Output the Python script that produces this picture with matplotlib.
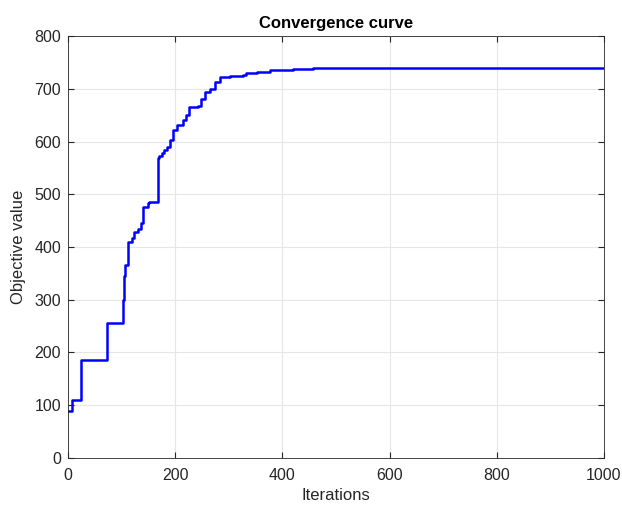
import matplotlib.pyplot as plt

# step points of the convergence curve (iteration where value changes, new value)
iters = [0, 7, 24, 73, 103, 104, 107, 112, 119, 124, 130, 136, 140, 150, 152, 168,
         170, 175, 180, 184, 190, 196, 203, 215, 220, 226, 243, 249, 255, 265,
         274, 284, 302, 327, 333, 352, 377, 420, 457, 520, 1000]
values = [90, 110, 185, 256, 300, 345, 366, 410, 418, 428, 435, 445, 476, 483, 485, 568,
          573, 578, 584, 590, 603, 622, 631, 641, 650, 666, 668, 681, 694, 700,
          713, 722, 724, 726, 729, 732, 735, 737, 739, 740, 740]

plt.rcParams['font.family'] = ['Liberation Sans', 'DejaVu Sans']

fig = plt.figure(figsize=(6.22, 5.05), dpi=100)
ax = fig.add_axes([0.1093, 0.0931, 0.8617, 0.8356])

ax.step(iters, values, where='post', color=(0, 0, 1), linewidth=1.8)

ax.set_xlim(0, 1000)
ax.set_ylim(0, 800)
ax.set_xticks(range(0, 1001, 200))
ax.set_yticks(range(0, 801, 100))
ax.grid(True, color='#e6e6e6', linewidth=0.8)
ax.set_axisbelow(True)
ax.tick_params(direction='in', labelsize=11.5, colors='#262626', length=4,
               top=True, right=True)
ax.tick_params(axis='x', pad=7)
ax.tick_params(axis='y', pad=5)
for s in ax.spines.values():
    s.set_color('#262626')
    s.set_linewidth(0.6)

ax.set_title('Convergence curve', fontsize=12, fontweight='bold', pad=6)
ax.set_xlabel('Iterations', fontsize=12, color='#262626', labelpad=4)
ax.set_ylabel('Objective value', fontsize=12, color='#262626', labelpad=6)

fig.savefig('out.png', dpi=100)
